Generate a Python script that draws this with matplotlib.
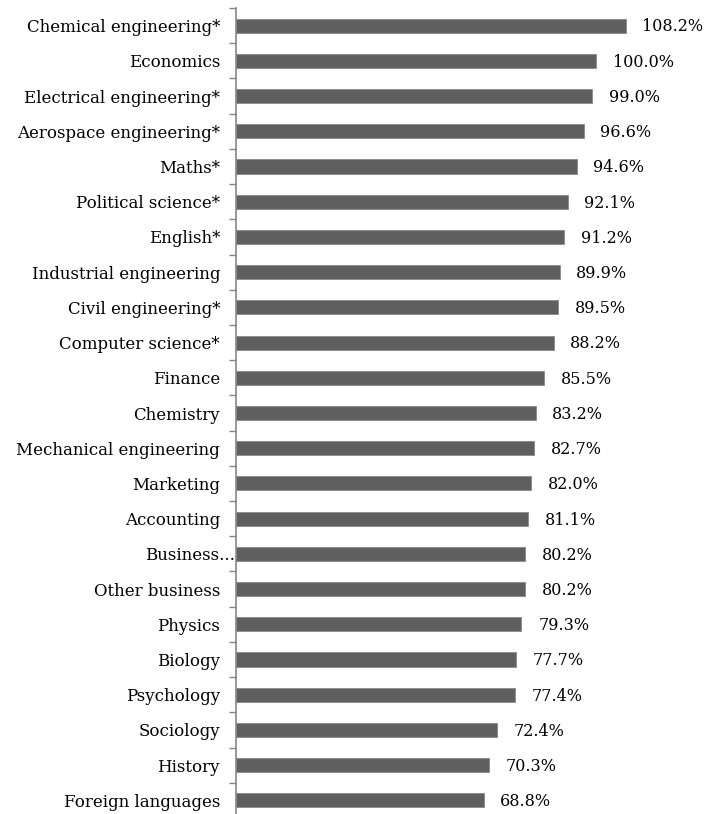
import matplotlib.pyplot as plt
import matplotlib.transforms as mtransforms

subjects = [
    "Chemical engineering*", "Economics", "Electrical engineering*",
    "Aerospace engineering*", "Maths*", "Political science*", "English*",
    "Industrial engineering", "Civil engineering*", "Computer science*",
    "Finance", "Chemistry", "Mechanical engineering", "Marketing",
    "Accounting", "Business...", "Other business", "Physics", "Biology",
    "Psychology", "Sociology", "History", "Foreign languages",
]
values = [
    108.2, 100.0, 99.0, 96.6, 94.6, 92.1, 91.2, 89.9, 89.5, 88.2,
    85.5, 83.2, 82.7, 82.0, 81.1, 80.2, 80.2, 79.3, 77.7, 77.4,
    72.4, 70.3, 68.8,
]

plt.rcParams['font.family'] = ['DejaVu Serif']

fig = plt.figure(figsize=(7.05, 8.14), dpi=100)
ax = fig.add_axes([236 / 705, (814 - 818) / 814, 432 / 705, 810 / 814])

pos = list(range(len(subjects)))
ax.barh(pos, values, height=0.4, color='#5f5f5f', edgecolor='#8a8a8a', linewidth=0.6)

for p, v in zip(pos, values):
    ax.annotate(f"{v:.1f}%", xy=(v, p), xytext=(12, -1), textcoords='offset points',
                ha='left', va='center', fontsize=11.5, color='black')

ax.set_xlim(0, 120)
ax.set_ylim(len(subjects) - 0.5, -0.5)

ax.set_yticks(pos)
ax.set_yticklabels(subjects, fontsize=12)
ax.tick_params(axis='y', which='major', length=0, pad=11.5)
ax.set_yticks([p - 0.5 for p in pos] + [len(pos) - 0.5], minor=True)
ax.tick_params(axis='y', which='minor', length=5, width=1, color='#868686', direction='out')
ax.set_xticks([])

# truncated label sits closer to the axis
lab = ax.get_yticklabels()[subjects.index("Business...")]
lab.set_transform(lab.get_transform() + mtransforms.ScaledTranslation(15 / 100, 0, fig.dpi_scale_trans))

for s in ['top', 'right', 'bottom']:
    ax.spines[s].set_visible(False)
ax.spines['left'].set_color('#868686')
ax.spines['left'].set_linewidth(1.2)

fig.savefig('out.png', dpi=100)
